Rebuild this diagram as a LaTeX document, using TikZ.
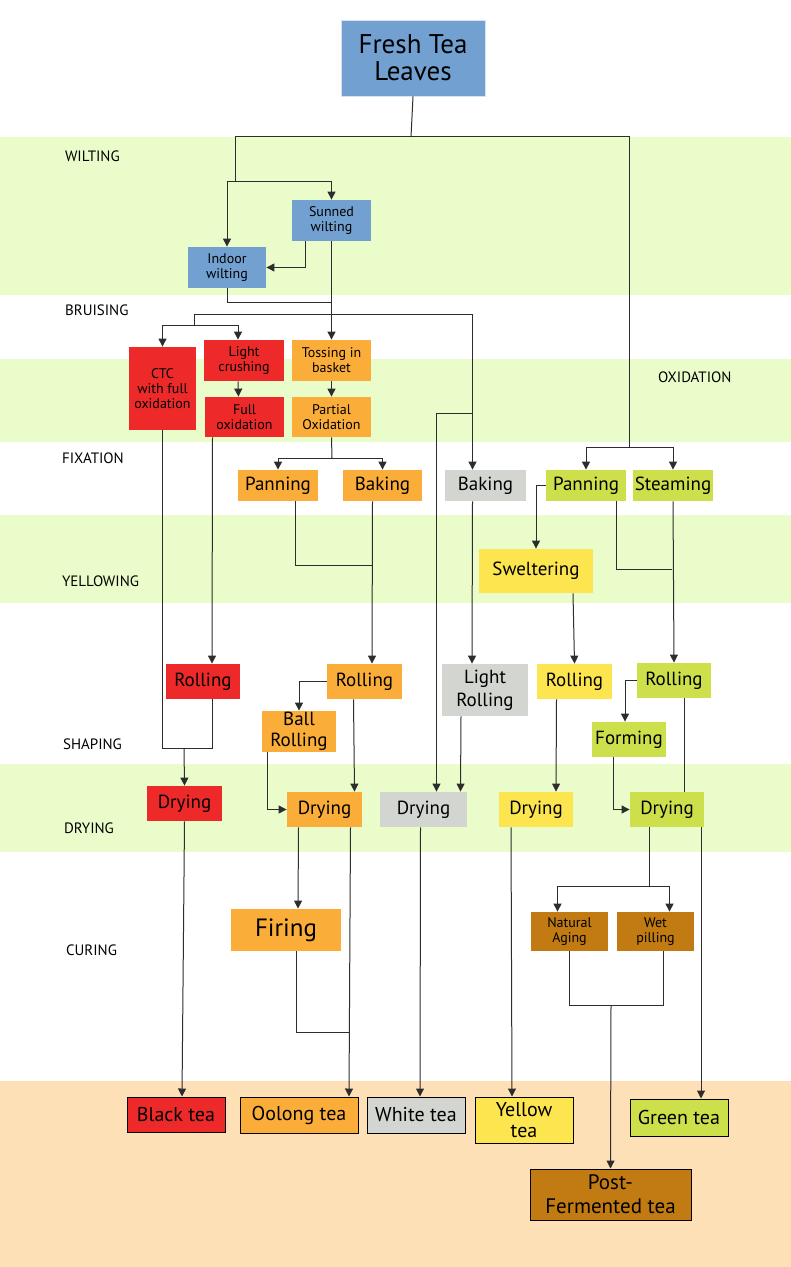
\documentclass[tikz,border=0pt]{standalone}
\usepackage{fontspec}
\setmainfont{PT Sans}
\usetikzlibrary{arrows.meta}
\definecolor{leafblue}{RGB}{114,161,209}
\definecolor{blackred}{RGB}{237,41,41}
\definecolor{oolongorange}{RGB}{251,173,58}
\definecolor{whitegray}{RGB}{211,214,208}
\definecolor{greenlime}{RGB}{205,223,74}
\definecolor{yellowtea}{RGB}{253,229,79}
\definecolor{pubrown}{RGB}{194,122,18}
\definecolor{bandgreen}{RGB}{235,252,203}
\definecolor{bandorange}{RGB}{253,224,182}
\definecolor{linegray}{RGB}{45,45,45}
% box from its pixel corners: name, x1, y1, x2, y2, style, text
\newcommand\stagebox[7]{\node[#6, minimum width={(#4-#2)*0.5pt}, minimum height={(#5-#3)*0.5pt}] (#1) at ({(#2+#4)/2},{(#3+#5)/2}) {#7};}
\tikzset{
  stage/.style={inner sep=0pt, align=center, font=\fontsize{9.5}{10}\selectfont, text=black},
  small/.style={stage, font=\fontsize{7}{7.5}\selectfont},
  tea/.style={stage, draw=black, line width=0.5pt, font=\fontsize{10}{10.5}\selectfont},
  band/.style={anchor=west, font=\fontsize{7.5}{8}\selectfont},
  link/.style={draw=linegray, line width=0.5pt},
  flow/.style={link, -{Triangle[length=4pt,width=4pt]}}
}
\begin{document}
\begin{tikzpicture}[x=0.5pt, y=-0.5pt]
  \useasboundingbox (0,0) rectangle (791,1267);
  % bands
  \fill[bandgreen] (0,137) rectangle (791,295);
  \fill[bandgreen] (0,359) rectangle (791,442);
  \fill[bandgreen] (0,515) rectangle (791,603);
  \fill[bandgreen] (0,764) rectangle (791,852);
  \fill[bandorange] (0,1081) rectangle (791,1267);
  \node[band] (lwilt) at (58,156) {WILTING};
  \node[band] (lbruise) at (58,310) {BRUISING};
  \node[band] (loxid) at (651,377) {OXIDATION};
  \node[band] (lfix) at (55,458) {FIXATION};
  \node[band] (lyellow) at (55,581) {YELLOWING};
  \node[band] (lshape) at (56,744) {SHAPING};
  \node[band] (ldry) at (57,828) {DRYING};
  \node[band] (lcure) at (59,950) {CURING};

  % boxes
  \stagebox{fresh}{341}{20}{485}{96}{stage, fill=leafblue, draw=white!70!leafblue, font=\fontsize{13.5}{13.5}\selectfont}{Fresh Tea\\Leaves}
  \stagebox{sunned}{292}{200}{371}{241}{small, fill=leafblue}{Sunned\\wilting}
  \stagebox{indoor}{188}{247}{266}{288}{small, fill=leafblue}{Indoor\\wilting}
  \stagebox{ctc}{129}{347}{196}{430}{small, fill=blackred}{CTC\\with full\\oxidation}
  \stagebox{lightcr}{204}{340}{284}{381}{small, fill=blackred}{Light\\crushing}
  \stagebox{fullox}{205}{397}{284}{437}{small, fill=blackred}{Full\\oxidation}
  \stagebox{tossing}{292}{340}{371}{381}{small, fill=oolongorange}{Tossing in\\basket}
  \stagebox{partial}{292}{397}{371}{437}{small, fill=oolongorange}{Partial\\Oxidation}
  \stagebox{panO}{238}{470}{318}{501}{stage, fill=oolongorange}{Panning}
  \stagebox{bakO}{343}{470}{422}{501}{stage, fill=oolongorange}{Baking}
  \stagebox{bakW}{445}{470}{526}{501}{stage, fill=whitegray}{Baking}
  \stagebox{panG}{546}{470}{626}{501}{stage, fill=greenlime}{Panning}
  \stagebox{steam}{633}{470}{713}{501}{stage, fill=greenlime}{Steaming}
  \stagebox{swelt}{479}{549}{593}{593}{stage, fill=yellowtea}{Sweltering}
  \stagebox{rollB}{166}{664}{240}{699}{stage, fill=blackred}{Rolling}
  \stagebox{rollO}{327}{664}{402}{699}{stage, fill=oolongorange}{Rolling}
  \stagebox{ballR}{262}{711}{336}{752}{stage, fill=oolongorange, font=\fontsize{9.5}{10.5}\selectfont}{Ball\\Rolling}
  \stagebox{lightR}{442}{664}{528}{716}{stage, fill=whitegray, font=\fontsize{9.5}{11.5}\selectfont}{Light\\Rolling}
  \stagebox{rollY}{537}{664}{612}{699}{stage, fill=yellowtea}{Rolling}
  \stagebox{rollG}{637}{663}{711}{698}{stage, fill=greenlime}{Rolling}
  \stagebox{forming}{592}{722}{666}{757}{stage, fill=greenlime}{Forming}
  \stagebox{dryB}{147}{786}{222}{821}{stage, fill=blackred}{Drying}
  \stagebox{dryO}{287}{792}{362}{827}{stage, fill=oolongorange}{Drying}
  \stagebox{dryW}{380}{792}{467}{827}{stage, fill=whitegray}{Drying}
  \stagebox{dryY}{499}{792}{573}{827}{stage, fill=yellowtea}{Drying}
  \stagebox{dryG}{630}{792}{704}{827}{stage, fill=greenlime}{Drying}
  \stagebox{firing}{231}{909}{341}{951}{stage, fill=oolongorange, font=\fontsize{12.5}{13}\selectfont}{Firing}
  \stagebox{natural}{531}{912}{608}{951}{small, fill=pubrown}{Natural\\Aging}
  \stagebox{wet}{617}{912}{694}{951}{small, fill=pubrown}{Wet\\pilling}
  \stagebox{black}{127}{1097}{225}{1132}{tea, fill=blackred}{Black tea}
  \stagebox{oolong}{240}{1097}{358}{1133}{tea, fill=oolongorange}{Oolong tea}
  \stagebox{white}{367}{1097}{465}{1133}{tea, fill=whitegray}{White tea}
  \stagebox{yellow}{475}{1097}{573}{1143}{tea, fill=yellowtea}{Yellow\\tea}
  \stagebox{green}{630}{1099}{728}{1136}{tea, fill=greenlime}{Green tea}
  \stagebox{post}{530}{1169}{691}{1220}{tea, fill=pubrown, font=\fontsize{10.5}{12}\selectfont}{Post-\\Fermented tea}

  % wilting
  \draw[link] (fresh.south) -- (411,137);
  \draw[link] (235,182) -- (235,137) -- (629,137) -- (629,447);
  \draw[flow] (235,182) -| (sunned.north);
  \draw[flow] (235,182) -| (indoor.north);
  \draw[flow] ([xshift=-13pt]sunned.south) |- (indoor.east);
  \draw[link] (indoor.south) |- (331,303);
  \draw[flow] (sunned.south) -- (tossing.north);
  % bruising
  \draw[link] (194,326) |- (331,315);
  \draw[flow] (331,315) -| ([xshift=-6.5pt]bakW.north);
  \draw[flow] (194,326) -| (ctc.north);
  \draw[flow] (194,326) -| ([xshift=-3pt]lightcr.north);
  \draw[flow] ([xshift=-3pt]lightcr.south) -- ([xshift=-3pt]fullox.north);
  \draw[flow] (tossing.south) -- (partial.north);
  \draw[link] (partial.south) -- (332,458);
  \draw[flow] (332,458) -| (panO.north);
  \draw[flow] (332,458) -| (bakO.north);
  \draw[flow] (629,447) -| (panG.north);
  \draw[flow] (629,447) -| (steam.north);
  \draw[flow] (472,413) -| ([xshift=6.5pt]dryW.north);
  % black
  \draw[flow] ([xshift=-16pt]fullox.south) -- ([xshift=4.5pt]rollB.north);
  \draw[link] (ctc.south) |- (212,748) -- ([xshift=4.5pt]rollB.south);
  \draw[flow] (184,748) -- (dryB.north);
  \draw[flow] (dryB.south) -- ([xshift=3pt]black.north);
  % oolong
  \draw[link] ([xshift=8.5pt]panO.south) |- (372,565);
  \draw[flow] ([xshift=-5pt]bakO.south) -- ([xshift=3.75pt]rollO.north);
  \draw[flow] (rollO.west) -| (ballR.north);
  \draw[flow] ([xshift=-16pt]ballR.south) |- (dryO.west);
  \draw[flow] ([xshift=-5.5pt]rollO.south) -- ([xshift=15pt]dryO.north);
  \draw[flow] ([xshift=-13pt]dryO.south) -- ([xshift=6pt]firing.north);
  \draw[link] ([xshift=5pt]firing.south) |- (349,1032);
  \draw[flow] ([xshift=13pt]dryO.south) -- ([xshift=25pt]oolong.north);
  % white
  \draw[flow] ([xshift=-6.5pt]bakW.south) -- ([xshift=-6.5pt]lightR.north);
  \draw[flow] ([xshift=-12pt]lightR.south) -- ([xshift=18.5pt]dryW.north);
  \draw[flow] ([xshift=-1.5pt]dryW.south) -- ([xshift=2pt]white.north);
  % yellow
  \draw[flow] (panG.west) -| (swelt.north);
  \draw[flow] ([xshift=18.5pt]swelt.south) -- (rollY.north);
  \draw[flow] ([xshift=-9pt]rollY.south) -- ([xshift=10pt]dryY.north);
  \draw[flow] ([xshift=-12.5pt]dryY.south) -- ([xshift=-6pt]yellow.north);
  % green
  \draw[link] ([xshift=15pt]panG.south) |- (672,569);
  \draw[flow] (steam.south) -- (rollG.north);
  \draw[flow] (rollG.west) -| ([xshift=-2pt]forming.north);
  \draw[flow] ([xshift=-8pt]forming.south) |- (dryG.west);
  \draw[link] ([xshift=5pt]rollG.south) -- ([xshift=8.5pt]dryG.north);
  \draw[flow] ([xshift=17pt]dryG.south) -- ([xshift=11pt]green.north);
  % post-fermented
  \draw[link] ([xshift=-9pt]dryG.south) -- (649,886);
  \draw[flow] (649,886) -| ([xshift=-6pt]natural.north);
  \draw[flow] (649,886) -| ([xshift=7pt]wet.north);
  \draw[link] (natural.south) |- (611,1005) -| ([xshift=4pt]wet.south);
  \draw[flow] (611,1005) -- (post.north);
\end{tikzpicture}
\end{document}
